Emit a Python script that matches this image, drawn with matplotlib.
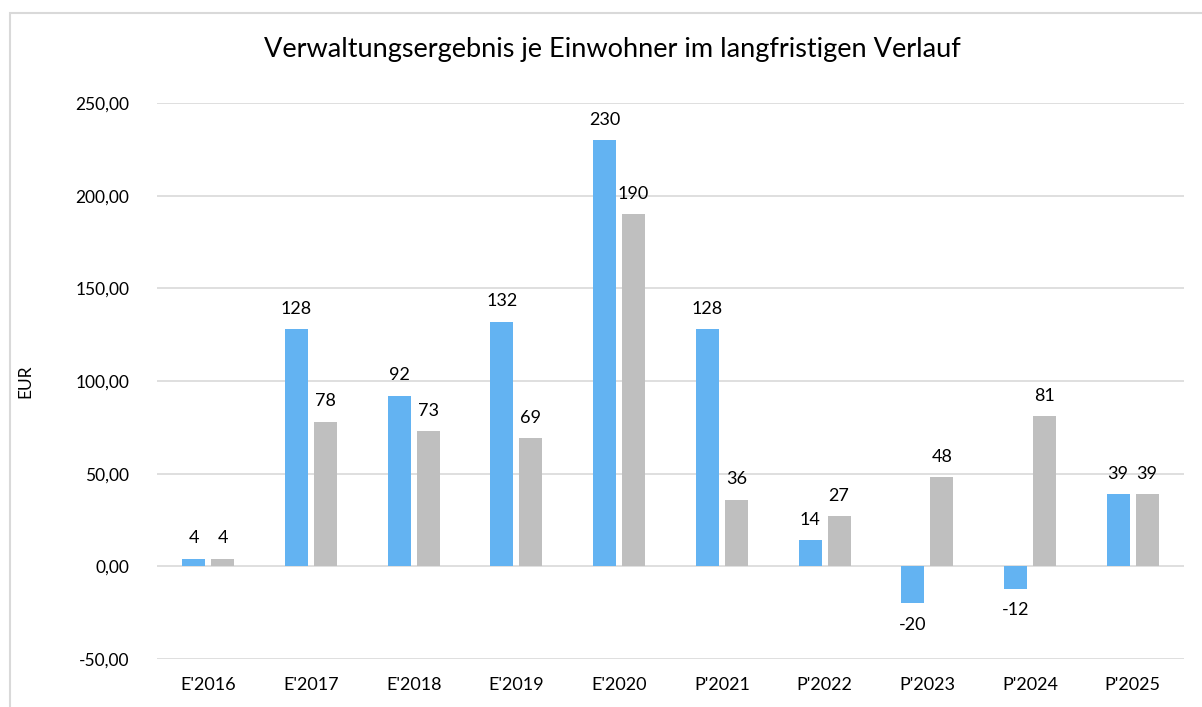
import numpy as np
import matplotlib
matplotlib.use('Agg')
import matplotlib.pyplot as plt
from matplotlib.patches import Rectangle

categories = ["E'2016", "E'2017", "E'2018", "E'2019", "E'2020",
              "P'2021", "P'2022", "P'2023", "P'2024", "P'2025"]
blue_vals = [4, 128, 92, 132, 230, 128, 14, -20, -12, 39]
grey_vals = [4, 78, 73, 69, 190, 36, 27, 48, 81, 39]
yticks = [-50, 0, 50, 100, 150, 200, 250]

plt.rcParams['font.family'] = ['Lato', 'DejaVu Sans']

fig = plt.figure(figsize=(12.02, 7.07), dpi=100)
fig.patches.append(Rectangle((10 / 1202, -0.1), 1.2, 1 - 13 / 707 + 0.1,
                             transform=fig.transFigure, fill=False,
                             edgecolor='#D9D9D9', linewidth=1.5))
ax = fig.add_axes([157 / 1202, 1 - 659 / 707, (1184 - 157) / 1202, (659 - 103) / 707])

x = np.arange(len(categories))
w = 0.224
off = 0.141
ax.bar(x - off, blue_vals, w, color='#63B3F2', zorder=3)
ax.bar(x + off, grey_vals, w, color='#BFBFBF', zorder=3)

for xi, b, g in zip(x, blue_vals, grey_vals):
    for xx, v in ((xi - off, b), (xi + off, g)):
        if v >= 0:
            ax.annotate(str(v), (xx, v), xytext=(0, 9), textcoords='offset points',
                        ha='center', va='bottom', fontsize=13)
        else:
            ax.annotate(str(v), (xx, v), xytext=(0, -10), textcoords='offset points',
                        ha='center', va='top', fontsize=13)

ax.set_xlim(-0.5, len(categories) - 0.5)
ax.set_ylim(-50, 250)
ax.set_yticks(yticks)
ax.set_yticklabels(['{:.2f}'.format(t).replace('.', ',') for t in yticks], fontsize=12.5)
ax.set_xticks(x)
ax.set_xticklabels(categories, fontsize=13)
ax.tick_params(length=0)
ax.tick_params(axis='y', pad=20)
ax.tick_params(axis='x', pad=13)
ax.grid(axis='y', color='#D9D9D9', linewidth=1.2, zorder=0)
for s in ax.spines.values():
    s.set_visible(False)

ax.set_ylabel('EUR', fontsize=12.5)
ax.yaxis.set_label_coords(-0.12, 0.5)
fig.text(612 / 1202, 1 - 50 / 707, 'Verwaltungsergebnis je Einwohner im langfristigen Verlauf',
         ha='center', va='center', fontsize=19.5)

fig.savefig('out.png', dpi=100)
